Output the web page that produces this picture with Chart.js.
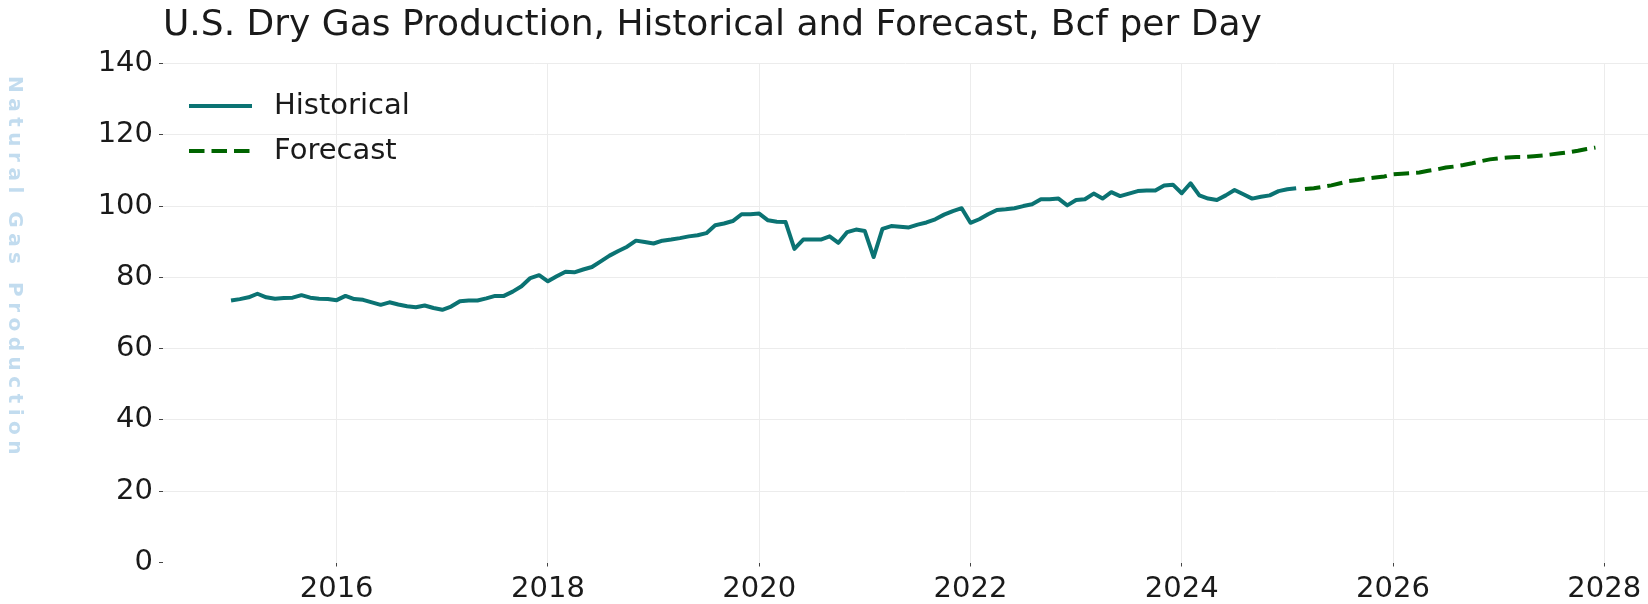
<!DOCTYPE html>
<html>
<head>
<meta charset="utf-8">
<script src="https://cdn.jsdelivr.net/npm/chart.js@4.4.1/dist/chart.umd.min.js"></script>
<style>
  body { margin: 0; overflow: hidden; background: #fff; }
  .wrap { position: relative; width: 1648px; height: 604px; }
  .title {
    position: absolute; left: 163px; top: 5px;
    font-family: "DejaVu Sans", sans-serif; font-size: 36px; line-height: 1;
    color: #1a1a1a; white-space: nowrap;
  }
  .ylabel {
    position: absolute; left: 4px; top: 76px;
    writing-mode: vertical-rl;
    font-family: "DejaVu Sans", sans-serif; font-weight: bold; font-size: 20px;
    letter-spacing: 5.5px; color: #c2dcef; white-space: nowrap;
  }
</style>
</head>
<body>
<div class="wrap">
  <canvas id="gasChart" width="1648" height="604"></canvas>
  <div class="title">U.S. Dry Gas Production, Historical and Forecast, Bcf per Day</div>
  <div class="ylabel">Natural Gas Production</div>
</div>
<script>
// monthly values, Bcf/d
var historicalStart = [2015, 1];
var historical = [
    73.5, 73.9, 74.4, 75.4, 74.4, 74.0, 74.2, 74.3, 75.0, 74.3, 74.0, 73.9,
    73.6, 74.8, 73.9, 73.7, 73.0, 72.3, 73.0, 72.4, 71.9, 71.6, 72.1, 71.4,
    70.9, 71.8, 73.3, 73.5, 73.5, 74.1, 74.8, 74.8, 76.0, 77.5, 79.8, 80.6,
    78.9, 80.3, 81.6, 81.4, 82.2, 82.9, 84.5, 86.1, 87.4, 88.6, 90.3, 89.9,
    89.5, 90.3, 90.6, 91.0, 91.5, 91.8, 92.4, 94.6, 95.1, 95.8, 97.7, 97.7,
    97.9, 96.0, 95.6, 95.5, 88.0, 90.6, 90.6, 90.6, 91.5, 89.7, 92.7, 93.4,
    93.0, 85.7, 93.6, 94.4, 94.2, 94.0, 94.8, 95.4, 96.3, 97.6, 98.6, 99.4,
    95.3, 96.3, 97.7, 98.9, 99.1, 99.4, 100.0, 100.5, 101.9, 101.9, 102.1, 100.2,
    101.7, 101.9, 103.5, 102.1, 103.9, 102.8, 103.5, 104.2, 104.4, 104.4, 105.8, 106.0,
    103.6, 106.4, 103.0, 102.1, 101.7, 103.0, 104.5, 103.3, 102.1, 102.6, 103.0, 104.2,
    104.7, 105.0
];

var forecastStart = [2025, 3];
var forecast = [
    104.8, 105.0, 105.4, 105.8, 106.4, 107.0, 107.3, 107.7, 108.0, 108.3,
    108.9, 109.1, 109.2, 109.4, 109.9, 110.3, 110.8, 111.1, 111.5, 112.0, 112.6, 113.1,
    113.4, 113.6, 113.8, 113.8, 114.0, 114.2, 114.5, 114.8, 115.1, 115.5, 116.0, 116.4
];

var yearTicks = [2016, 2018, 2020, 2022, 2024, 2026, 2028];
var valueTicks = [0, 20, 40, 60, 80, 100, 120, 140];

function toPoints(start, values) {
    return values.map(function (v, i) {
        return { x: start[0] + (start[1] - 1 + i) / 12, y: v };
    });
}

var tickFont = { family: 'DejaVu Sans', size: 29 };

// legend drawn inside the plot, top left
var insideLegend = {
    id: 'insideLegend',
    afterDraw: function (chart) {
        var ctx = chart.ctx;
        var area = chart.chartArea;
        ctx.save();
        chart.data.datasets.forEach(function (ds, i) {
            var y = area.top + 42.5 + i * 45;
            ctx.beginPath();
            ctx.lineWidth = ds.borderWidth;
            ctx.strokeStyle = ds.borderColor;
            ctx.setLineDash(ds.borderDash || []);
            ctx.moveTo(area.left + 26, y);
            ctx.lineTo(area.left + 89, y);
            ctx.stroke();
            ctx.setLineDash([]);
            ctx.fillStyle = '#1a1a1a';
            ctx.font = '29px "DejaVu Sans"';
            ctx.textBaseline = 'middle';
            ctx.fillText(ds.label, area.left + 111, y);
        });
        ctx.restore();
    }
};

var ctx = document.getElementById('gasChart').getContext('2d');
var chart = new Chart(ctx, {
    type: 'line',
    data: {
        datasets: [{
            label: 'Historical',
            data: toPoints(historicalStart, historical),
            borderColor: '#0b7373',
            borderWidth: 4,
            borderJoinStyle: 'round',
            pointRadius: 0,
            tension: 0
        }, {
            label: 'Forecast',
            data: toPoints(forecastStart, forecast),
            borderColor: '#006400',
            borderWidth: 4,
            borderDash: [15.5, 7],
            pointRadius: 0,
            tension: 0
        }]
    },
    options: {
        responsive: false,
        animation: false,
        layout: { padding: { top: 63.5, left: 0, right: 0, bottom: 0 } },
        plugins: {
            legend: { display: false },
            tooltip: { enabled: false }
        },
        scales: {
            x: {
                type: 'linear',
                min: 2014.356,
                max: 2028.414,
                afterBuildTicks: function (s) { s.ticks = yearTicks.map(function (v) { return { value: v }; }); },
                afterFit: function (s) { s.height = 41.5; },
                border: { display: false },
                grid: { color: '#ececec', lineWidth: 1, tickColor: '#444', tickLength: 4 },
                ticks: {
                    font: tickFont, color: '#1a1a1a', padding: 6, maxRotation: 0, autoSkip: false,
                    callback: function (v) { return String(v); }
                }
            },
            y: {
                min: 0,
                max: 140,
                afterBuildTicks: function (s) { s.ticks = valueTicks.map(function (v) { return { value: v }; }); },
                afterFit: function (s) { s.width = 163; },
                border: { display: false },
                grid: {
                    color: function (c) { return c.tick && c.tick.value === 0 ? 'rgba(0,0,0,0)' : '#ececec'; },
                    lineWidth: 1, tickColor: '#444', tickLength: 4
                },
                ticks: { font: tickFont, color: '#1a1a1a', padding: 6 }
            }
        }
    },
    plugins: [insideLegend]
});
</script>
</body>
</html>
